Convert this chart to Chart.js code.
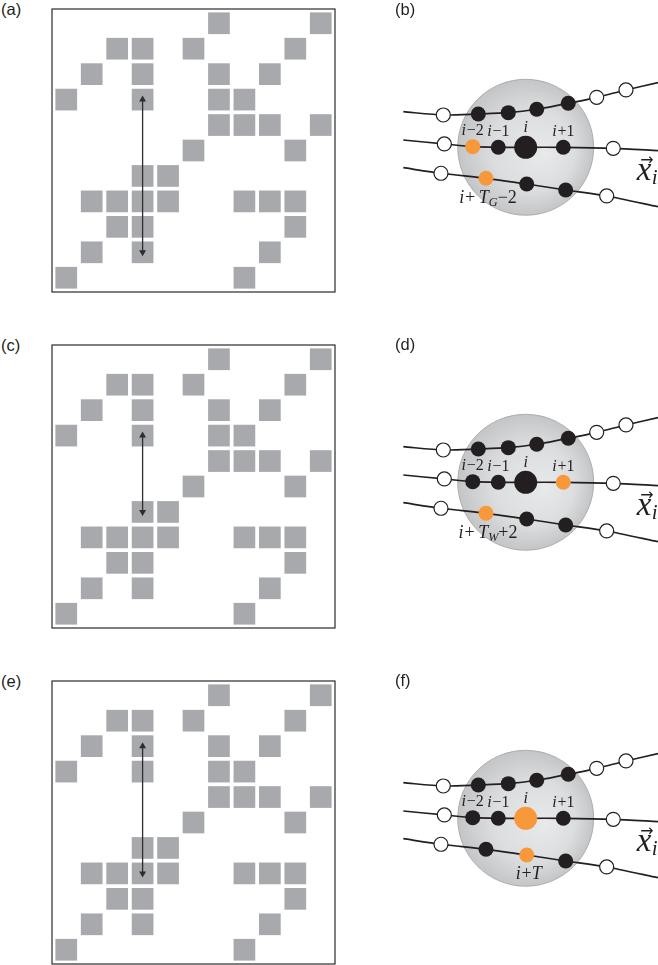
<!DOCTYPE html>
<html>
<head>
<meta charset="utf-8">
<script src="https://cdn.jsdelivr.net/npm/chart.js@4"></script>
<style>
  html, body { margin: 0; padding: 0; background: #fff; width: 658px; height: 965px; overflow: hidden; }
  canvas { position: absolute; }
  .panel-label { position: absolute; font: 16.5px "Liberation Sans", Arial, sans-serif; line-height: 16px; color: #231f20; }
</style>
</head>
<body>
<script>
// ---- Recurrence matrix, rows listed from the top of the plot ('1' = recurrence) ----
const recurrenceRows = [
  "00000010001",
  "00110100010",
  "01010010100",
  "10010011000",
  "00000011101",
  "00000100010",
  "00011000000",
  "01111001110",
  "00110000010",
  "01010000100",
  "10000001000"
];
// Column of the double arrow and the rows (from top) it spans in each plot
const arrowColumn = 3;
const arrowRowsA = [3, 9];
const arrowRowsC = [3, 6];
const arrowRowsE = [2, 7];

// ---- Phase-space trajectories, in units of the neighbourhood radius around x_i ----
const upperTrajX  = [-1.80, -1.212, -0.697, -0.256, 0.162, 0.626, 1.044, 1.475, 1.946];
const upperTrajY  = [0.523, 0.475, 0.490, 0.509, 0.559, 0.647, 0.735, 0.843, 0.950];
const middleTrajX = [-1.80, -1.197, -0.779, -0.403, 0, 0.553, 1.288, 1.946];
const middleTrajY = [0.107, 0.049, 0.009, 0, 0, 0, -0.015, -0.050];
const lowerTrajX  = [-1.80, -1.246, -0.584, 0.015, 0.588, 1.191, 1.946];
const lowerTrajY  = [-0.300, -0.382, -0.456, -0.540, -0.628, -0.716, -0.874];

// Role of each trajectory state: '' = no marker, out = outside the ball,
// in = neighbour, hit = highlighted neighbour, ref = reference state i
const upperRoles   = ['', 'out', 'in', 'in', 'in', 'in', 'out', 'out', ''];
const middleRolesB = ['', 'out', 'hit', 'in', 'ref', 'in', 'out', ''];
const lowerRolesB  = ['', 'out', 'hit', 'in', 'in', 'out', ''];
const middleRolesD = ['', 'out', 'in', 'in', 'ref', 'hit', 'out', ''];
const lowerRolesD  = ['', 'out', 'hit', 'in', 'in', 'out', ''];
const middleRolesF = ['', 'out', 'in', 'in', 'refHit', 'in', 'out', ''];
const lowerRolesF  = ['', 'out', 'in', 'hit', 'in', 'out', ''];

// Labels: {..} italic, [..] italic subscript
const middleLabels = ['{i}\u22122', '{i}\u22121', '{i}', '{i}+1'];
const lowerLabelB = '{i}+\u2009{T}[G]\u22122';
const lowerLabelD = '{i}+\u2009{T}[W]+2';
const lowerLabelF = '{i}+{T}';
const ballRadius = 1;

const INK = '#231f20';
const ORANGE = '#f7993a';
const CELL_GREY = '#a7a9ac';
const SERIF = '"Liberation Serif", "DejaVu Serif", serif';

const baseOptions = {
  responsive: false,
  animation: false,
  events: [],
  devicePixelRatio: 1,
  plugins: { legend: { display: false }, tooltip: { enabled: false } }
};

// ---------- recurrence plots ----------
const framePlugin = {
  id: 'frame',
  afterDraw(chart) {
    const { left, top, right, bottom } = chart.chartArea;
    const ctx = chart.ctx;
    ctx.save();
    ctx.strokeStyle = '#2b2b2b';
    ctx.lineWidth = 1.2;
    ctx.strokeRect(left, top, right - left, bottom - top);
    ctx.restore();
  }
};

const CELL_SIDE = 0.853; // cell side in grid units
function cellRadius(c) {
  const s = c.chart.scales.x;
  return (s.getPixelForValue(CELL_SIDE) - s.getPixelForValue(0)) / Math.SQRT2;
}

function recurrenceChart(canvas, arrowRows) {
  const n = recurrenceRows.length;
  const cells = [];
  recurrenceRows.forEach((row, r) => {
    [...row].forEach((v, c) => { if (v === '1') cells.push({ x: c, y: n - 1 - r }); });
  });
  const arrow = arrowRows.map(r => ({ x: arrowColumn, y: n - 1 - r }));
  return new Chart(canvas, {
    type: 'scatter',
    data: {
      datasets: [
        { data: cells, showLine: false, pointStyle: 'rect', pointRadius: cellRadius,
          pointHoverRadius: cellRadius, pointBackgroundColor: CELL_GREY, pointBorderWidth: 0, order: 2 },
        { data: arrow, showLine: true, borderColor: '#2e2e2e', borderWidth: 1.3,
          pointStyle: 'triangle', pointRadius: 4, pointRotation: [0, 180],
          pointBackgroundColor: '#2e2e2e', pointBorderWidth: 0, order: 1 }
      ]
    },
    options: Object.assign({}, baseOptions, {
      layout: { padding: 2 },
      scales: {
        x: { type: 'linear', min: -0.56, max: n - 1 + 0.56, display: false },
        y: { type: 'linear', min: -0.56, max: n - 1 + 0.56, display: false }
      }
    }),
    plugins: [framePlugin]
  });
}

// ---------- phase-space neighbourhood panels ----------
function parseMarkup(s) {
  const runs = [];
  const re = /\{([^}]*)\}|\[([^\]]*)\]|([^{[]+)/g;
  let m;
  while ((m = re.exec(s))) {
    if (m[1] !== undefined) runs.push({ t: m[1], italic: true });
    else if (m[2] !== undefined) runs.push({ t: m[2], italic: true, sub: true });
    else runs.push({ t: m[3] });
  }
  return runs;
}

function drawRuns(ctx, text, cx, baseline, size) {
  const runs = parseMarkup(text);
  const fontFor = r => `${r.italic ? 'italic ' : ''}${r.sub ? size * 0.68 : size}px ${SERIF}`;
  ctx.save();
  ctx.fillStyle = INK;
  ctx.textAlign = 'left';
  ctx.textBaseline = 'alphabetic';
  const widths = runs.map((r, i) => {
    ctx.font = fontFor(r);
    const next = runs[i + 1];
    const gap = (r.italic && !r.sub && next && !next.italic) ? size * 0.05 : 0;
    return ctx.measureText(r.t).width + gap;
  });
  const total = widths.reduce((a, b) => a + b, 0);
  let x = cx - total / 2;
  runs.forEach((r, i) => {
    ctx.font = fontFor(r);
    ctx.fillText(r.t, x, baseline + (r.sub ? size * 0.2 : 0));
    x += widths[i];
  });
  ctx.restore();
}

const roleRadius = { '': 0, out: 7, in: 7.5, hit: 7.5, ref: 11.5, refHit: 11.5 };
const roleFill = { '': INK, out: '#ffffff', in: INK, hit: ORANGE, ref: INK, refHit: ORANGE };
const roleBorder = { '': 0, out: 1.2, in: 0, hit: 0, ref: 0, refHit: 0 };

function trajectory(xs, ys, roles) {
  return {
    data: xs.map((x, k) => ({ x, y: ys[k] })),
    showLine: true,
    tension: 0.25,
    borderColor: INK,
    borderWidth: 1.7,
    pointRadius: roles.map(r => roleRadius[r]),
    pointHoverRadius: roles.map(r => roleRadius[r]),
    pointBackgroundColor: roles.map(r => roleFill[r]),
    pointBorderColor: INK,
    pointBorderWidth: roles.map(r => roleBorder[r]),
    order: 1
  };
}

function ballPixelRadius(c) {
  const s = c.chart.scales.x;
  return s.getPixelForValue(ballRadius) - s.getPixelForValue(0);
}
function ballFill(c) {
  const chart = c.chart;
  const xs = chart.scales.x, ys = chart.scales.y;
  const cx = xs.getPixelForValue(0), cy = ys.getPixelForValue(0);
  const r = xs.getPixelForValue(ballRadius) - cx;
  if (!isFinite(cx) || !isFinite(cy) || !(r > 0)) return '#d6d8d9';
  const g = chart.ctx.createRadialGradient(cx + 0.3 * r, cy + 0.1 * r, 0, cx, cy, r);
  g.addColorStop(0, '#e8e9ea');
  g.addColorStop(0.6, '#dcdddf');
  g.addColorStop(1, '#c3c5c7');
  return g;
}

function phaseChart(canvas, middleRoles, lowerRoles, lowerLabel) {
  const labelPlugin = {
    id: 'stateLabels',
    afterDatasetsDraw(chart) {
      const ctx = chart.ctx;
      const mid = chart.getDatasetMeta(2).data;
      middleLabels.forEach((txt, k) => {
        const p = mid[k + 2];
        drawRuns(ctx, txt, p.x, p.y - p.options.radius - 4, 16);
      });
      const low = chart.getDatasetMeta(3).data;
      const h = low[lowerRoles.indexOf('hit')];
      drawRuns(ctx, lowerLabel, h.x + 2, h.y + h.options.radius + 17, 18);

      // trajectory vector label
      const xs = chart.scales.x, ys = chart.scales.y;
      const x0 = xs.getPixelForValue(1.632), b0 = ys.getPixelForValue(-0.481);
      ctx.save();
      ctx.fillStyle = INK;
      ctx.textAlign = 'left';
      ctx.textBaseline = 'alphabetic';
      ctx.font = `italic 33px ${SERIF}`;
      const w = ctx.measureText('x').width;
      ctx.fillText('x', x0, b0);
      ctx.font = `italic 21px ${SERIF}`;
      ctx.fillText('i', x0 + w + 0.5, b0 + 4);
      ctx.font = '16px "DejaVu Sans", sans-serif';
      ctx.textAlign = 'center';
      ctx.fillText('\u2192', x0 + w / 2 + 3, b0 - 15);
      ctx.restore();
    }
  };
  return new Chart(canvas, {
    type: 'scatter',
    data: {
      datasets: [
        { data: [{ x: 0, y: 0 }], showLine: false, pointRadius: ballPixelRadius,
          pointHoverRadius: ballPixelRadius, pointBackgroundColor: ballFill,
          pointBorderColor: 'rgba(160,162,165,0.8)', pointBorderWidth: 1, order: 3 },
        trajectory(upperTrajX, upperTrajY, upperRoles),
        trajectory(middleTrajX, middleTrajY, middleRoles),
        trajectory(lowerTrajX, lowerTrajY, lowerRoles)
      ]
    },
    options: Object.assign({}, baseOptions, {
      layout: { padding: 0 },
      scales: {
        x: { type: 'linear', min: -2.143, max: 1.946, display: false },
        y: { type: 'linear', min: -2.246, max: 2.166, display: false }
      }
    }),
    plugins: [labelPlugin]
  });
}

// ---------- page layout ----------
function addCanvas(left, top, w, h) {
  const c = document.createElement('canvas');
  c.width = w; c.height = h;
  c.style.left = left + 'px'; c.style.top = top + 'px';
  c.style.width = w + 'px'; c.style.height = h + 'px';
  document.body.appendChild(c);
  return c;
}
function addLabel(text, left, top) {
  const d = document.createElement('div');
  d.className = 'panel-label';
  d.textContent = text;
  d.style.left = left + 'px'; d.style.top = top + 'px';
  document.body.appendChild(d);
}

const rowsLeft = [0, 336, 672];
const rowsRight = [0, 335, 671];
const leftArrows = [arrowRowsA, arrowRowsC, arrowRowsE];
const rightSpecs = [
  [middleRolesB, lowerRolesB, lowerLabelB],
  [middleRolesD, lowerRolesD, lowerLabelD],
  [middleRolesF, lowerRolesF, lowerLabelF]
];
const letters = [['(a)', '(b)'], ['(c)', '(d)'], ['(e)', '(f)']];

for (let k = 0; k < 3; k++) {
  recurrenceChart(addCanvas(48, 5 + rowsLeft[k], 291, 291), leftArrows[k]);
  const spec = rightSpecs[k];
  phaseChart(addCanvas(380, rowsRight[k], 278, 300), spec[0], spec[1], spec[2]);
  addLabel(letters[k][0], 1, 1 + rowsLeft[k]);
  addLabel(letters[k][1], 395, 1 + rowsRight[k]);
}
</script>
</body>
</html>
